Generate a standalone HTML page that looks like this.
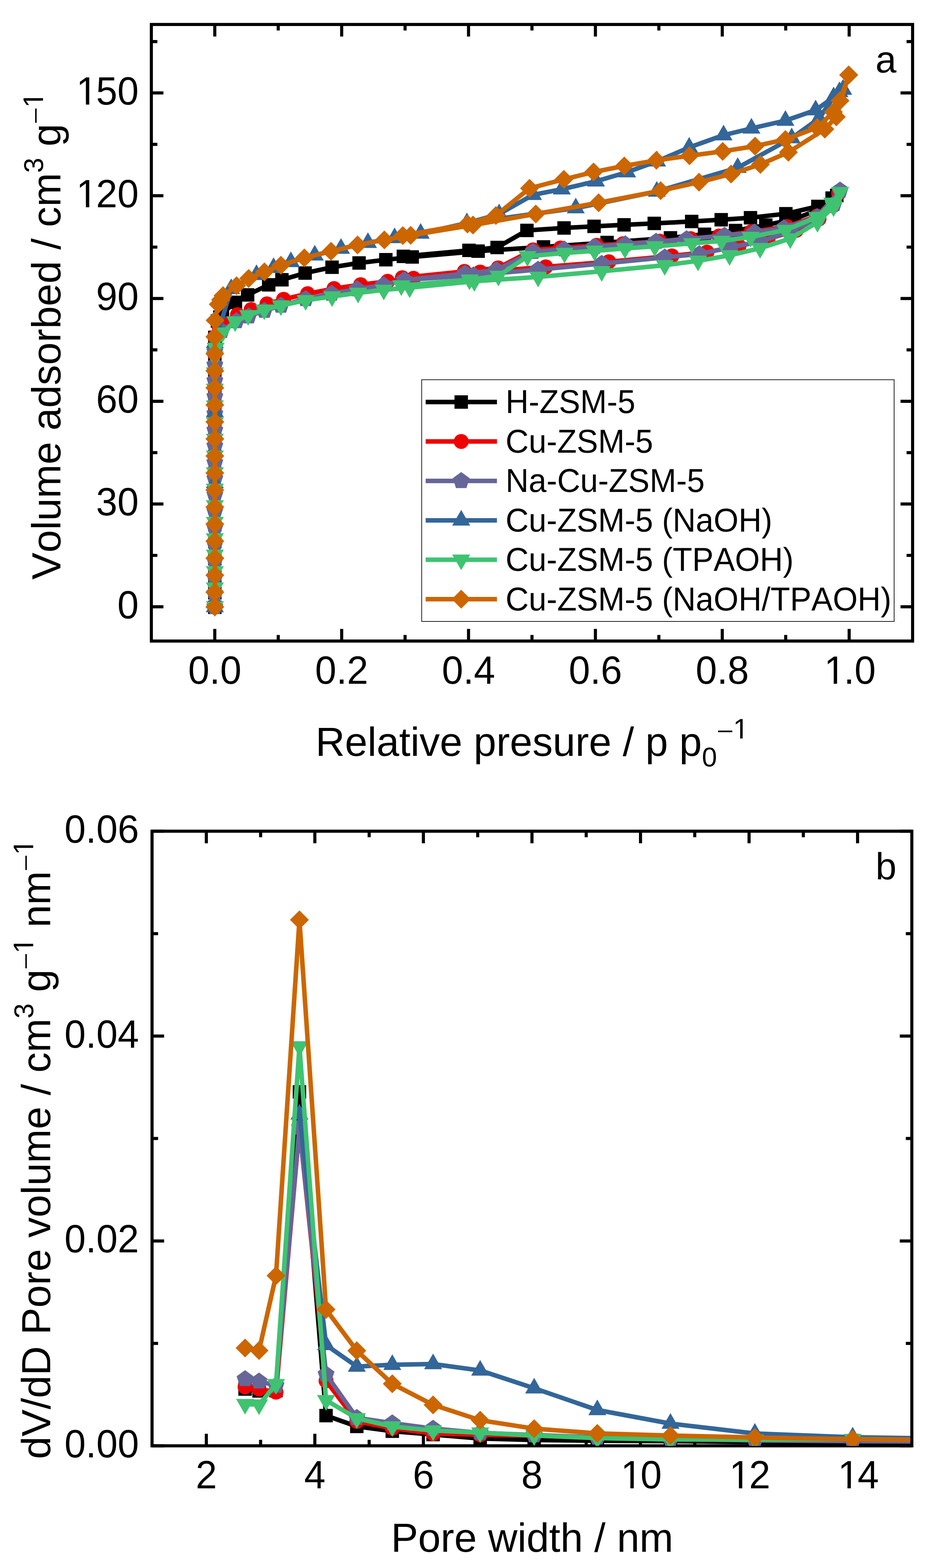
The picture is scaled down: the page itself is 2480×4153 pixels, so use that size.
<!DOCTYPE html>
<html lang="en">
<head>
<meta charset="utf-8">
<title>N2 physisorption isotherms and pore size distribution</title>
<style>html,body{margin:0;padding:0;background:#fff}body{width:2480px;height:4153px;overflow:hidden}svg{display:block}</style>
</head>
<body>
<svg width="2480" height="4153" viewBox="0 0 2480 4153" font-family='"Liberation Sans", sans-serif' fill="#000" style="font-kerning:none" text-rendering="geometricPrecision">
<rect width="2480" height="4153" fill="#fff"/>
<g id="plotA">
<path d="M569.2 1608.5L569.2 1570.0L569.2 1524.9L569.2 1479.8L569.2 1434.7L569.2 1389.6L569.2 1344.5L569.2 1299.4L569.2 1254.3L569.2 1209.2L569.2 1164.1L569.2 1119.0L569.2 1073.9L569.2 1028.8L569.2 983.7L569.2 938.6L569.2 893.5L576.1 850.1L582.5 839.9L589.5 829.0L623.8 800.8L656.1 781.1L711.9 754.4L747.0 741.0L808.4 723.2L879.8 707.8L951.4 696.5L1022.3 687.9L1092.1 680.6L1266.8 665.2L1440.0 654.0L1608.5 642.3L1776.4 630.0L1866.7 620.5L1948.9 610.6L2029.0 596.3L2105.0 580.0L2167.0 556.0L2204.7 524.7L2217.2 517.6" fill="none" stroke="#000000" stroke-width="12.0" stroke-linejoin="round"/>
<rect x="551.4" y="1590.7" width="35.6" height="35.6" fill="#000000"/>
<rect x="551.4" y="1552.2" width="35.6" height="35.6" fill="#000000"/>
<rect x="551.4" y="1507.1" width="35.6" height="35.6" fill="#000000"/>
<rect x="551.4" y="1462.0" width="35.6" height="35.6" fill="#000000"/>
<rect x="551.4" y="1416.9" width="35.6" height="35.6" fill="#000000"/>
<rect x="551.4" y="1371.8" width="35.6" height="35.6" fill="#000000"/>
<rect x="551.4" y="1326.7" width="35.6" height="35.6" fill="#000000"/>
<rect x="551.4" y="1281.6" width="35.6" height="35.6" fill="#000000"/>
<rect x="551.4" y="1236.5" width="35.6" height="35.6" fill="#000000"/>
<rect x="551.4" y="1191.4" width="35.6" height="35.6" fill="#000000"/>
<rect x="551.4" y="1146.3" width="35.6" height="35.6" fill="#000000"/>
<rect x="551.4" y="1101.2" width="35.6" height="35.6" fill="#000000"/>
<rect x="551.4" y="1056.1" width="35.6" height="35.6" fill="#000000"/>
<rect x="551.4" y="1011.0" width="35.6" height="35.6" fill="#000000"/>
<rect x="551.4" y="965.9" width="35.6" height="35.6" fill="#000000"/>
<rect x="551.4" y="920.8" width="35.6" height="35.6" fill="#000000"/>
<rect x="551.4" y="875.7" width="35.6" height="35.6" fill="#000000"/>
<rect x="558.3" y="832.3" width="35.6" height="35.6" fill="#000000"/>
<rect x="564.7" y="822.1" width="35.6" height="35.6" fill="#000000"/>
<rect x="571.7" y="811.2" width="35.6" height="35.6" fill="#000000"/>
<rect x="606.0" y="783.0" width="35.6" height="35.6" fill="#000000"/>
<rect x="638.3" y="763.3" width="35.6" height="35.6" fill="#000000"/>
<rect x="694.1" y="736.6" width="35.6" height="35.6" fill="#000000"/>
<rect x="729.2" y="723.2" width="35.6" height="35.6" fill="#000000"/>
<rect x="790.6" y="705.4" width="35.6" height="35.6" fill="#000000"/>
<rect x="862.0" y="690.0" width="35.6" height="35.6" fill="#000000"/>
<rect x="933.6" y="678.7" width="35.6" height="35.6" fill="#000000"/>
<rect x="1004.5" y="670.1" width="35.6" height="35.6" fill="#000000"/>
<rect x="1074.3" y="662.8" width="35.6" height="35.6" fill="#000000"/>
<rect x="1249.0" y="647.4" width="35.6" height="35.6" fill="#000000"/>
<rect x="1422.2" y="636.2" width="35.6" height="35.6" fill="#000000"/>
<rect x="1590.7" y="624.5" width="35.6" height="35.6" fill="#000000"/>
<rect x="1758.6" y="612.2" width="35.6" height="35.6" fill="#000000"/>
<rect x="1848.9" y="602.7" width="35.6" height="35.6" fill="#000000"/>
<rect x="1931.1" y="592.8" width="35.6" height="35.6" fill="#000000"/>
<rect x="2011.2" y="578.5" width="35.6" height="35.6" fill="#000000"/>
<rect x="2087.2" y="562.2" width="35.6" height="35.6" fill="#000000"/>
<rect x="2149.2" y="538.2" width="35.6" height="35.6" fill="#000000"/>
<rect x="2186.9" y="506.9" width="35.6" height="35.6" fill="#000000"/>
<rect x="2199.4" y="499.8" width="35.6" height="35.6" fill="#000000"/>
<path d="M2217.2 517.6L2167.0 546.7L2082.2 566.1L1988.5 576.7L1910.9 582.0L1832.7 586.6L1733.5 591.7L1653.5 595.5L1574.0 599.5L1494.5 603.8L1396.1 610.3L1317.1 655.5L1242.5 663.1L1068.7 679.0" fill="none" stroke="#000000" stroke-width="12.0" stroke-linejoin="round"/>
<rect x="2199.4" y="499.8" width="35.6" height="35.6" fill="#000000"/>
<rect x="2149.2" y="528.9" width="35.6" height="35.6" fill="#000000"/>
<rect x="2064.4" y="548.3" width="35.6" height="35.6" fill="#000000"/>
<rect x="1970.7" y="558.9" width="35.6" height="35.6" fill="#000000"/>
<rect x="1893.1" y="564.2" width="35.6" height="35.6" fill="#000000"/>
<rect x="1814.9" y="568.8" width="35.6" height="35.6" fill="#000000"/>
<rect x="1715.7" y="573.9" width="35.6" height="35.6" fill="#000000"/>
<rect x="1635.7" y="577.7" width="35.6" height="35.6" fill="#000000"/>
<rect x="1556.2" y="581.7" width="35.6" height="35.6" fill="#000000"/>
<rect x="1476.7" y="586.0" width="35.6" height="35.6" fill="#000000"/>
<rect x="1378.3" y="592.5" width="35.6" height="35.6" fill="#000000"/>
<rect x="1299.3" y="637.7" width="35.6" height="35.6" fill="#000000"/>
<rect x="1224.7" y="645.3" width="35.6" height="35.6" fill="#000000"/>
<rect x="1050.9" y="661.2" width="35.6" height="35.6" fill="#000000"/>
<path d="M569.2 1608.0L569.2 1569.0L569.2 1523.9L569.2 1478.8L569.2 1433.7L569.2 1388.6L569.2 1343.5L569.2 1298.4L569.2 1253.3L569.2 1208.2L569.2 1163.1L569.2 1118.0L569.2 1072.9L569.2 1027.8L569.2 982.7L569.2 937.6L569.2 892.5L581.3 869.0L589.0 856.0L629.2 833.2L665.6 819.7L707.3 804.9L751.3 792.7L815.1 777.9L885.0 764.3L955.5 754.0L1026.9 745.1L1095.6 737.0L1272.2 720.6L1446.0 706.7L1613.1 693.2L1780.2 677.7L1873.2 667.7L1958.0 652.0L2035.0 633.0L2110.0 610.0L2170.0 580.0L2207.0 545.0L2222.0 512.0" fill="none" stroke="#ee0000" stroke-width="12.0" stroke-linejoin="round"/>
<circle cx="569.2" cy="1608.0" r="19.8" fill="#ee0000"/>
<circle cx="569.2" cy="1569.0" r="19.8" fill="#ee0000"/>
<circle cx="569.2" cy="1523.9" r="19.8" fill="#ee0000"/>
<circle cx="569.2" cy="1478.8" r="19.8" fill="#ee0000"/>
<circle cx="569.2" cy="1433.7" r="19.8" fill="#ee0000"/>
<circle cx="569.2" cy="1388.6" r="19.8" fill="#ee0000"/>
<circle cx="569.2" cy="1343.5" r="19.8" fill="#ee0000"/>
<circle cx="569.2" cy="1298.4" r="19.8" fill="#ee0000"/>
<circle cx="569.2" cy="1253.3" r="19.8" fill="#ee0000"/>
<circle cx="569.2" cy="1208.2" r="19.8" fill="#ee0000"/>
<circle cx="569.2" cy="1163.1" r="19.8" fill="#ee0000"/>
<circle cx="569.2" cy="1118.0" r="19.8" fill="#ee0000"/>
<circle cx="569.2" cy="1072.9" r="19.8" fill="#ee0000"/>
<circle cx="569.2" cy="1027.8" r="19.8" fill="#ee0000"/>
<circle cx="569.2" cy="982.7" r="19.8" fill="#ee0000"/>
<circle cx="569.2" cy="937.6" r="19.8" fill="#ee0000"/>
<circle cx="569.2" cy="892.5" r="19.8" fill="#ee0000"/>
<circle cx="581.3" cy="869.0" r="19.8" fill="#ee0000"/>
<circle cx="589.0" cy="856.0" r="19.8" fill="#ee0000"/>
<circle cx="629.2" cy="833.2" r="19.8" fill="#ee0000"/>
<circle cx="665.6" cy="819.7" r="19.8" fill="#ee0000"/>
<circle cx="707.3" cy="804.9" r="19.8" fill="#ee0000"/>
<circle cx="751.3" cy="792.7" r="19.8" fill="#ee0000"/>
<circle cx="815.1" cy="777.9" r="19.8" fill="#ee0000"/>
<circle cx="885.0" cy="764.3" r="19.8" fill="#ee0000"/>
<circle cx="955.5" cy="754.0" r="19.8" fill="#ee0000"/>
<circle cx="1026.9" cy="745.1" r="19.8" fill="#ee0000"/>
<circle cx="1095.6" cy="737.0" r="19.8" fill="#ee0000"/>
<circle cx="1272.2" cy="720.6" r="19.8" fill="#ee0000"/>
<circle cx="1446.0" cy="706.7" r="19.8" fill="#ee0000"/>
<circle cx="1613.1" cy="693.2" r="19.8" fill="#ee0000"/>
<circle cx="1780.2" cy="677.7" r="19.8" fill="#ee0000"/>
<circle cx="1873.2" cy="667.7" r="19.8" fill="#ee0000"/>
<circle cx="1958.0" cy="652.0" r="19.8" fill="#ee0000"/>
<circle cx="2035.0" cy="633.0" r="19.8" fill="#ee0000"/>
<circle cx="2110.0" cy="610.0" r="19.8" fill="#ee0000"/>
<circle cx="2170.0" cy="580.0" r="19.8" fill="#ee0000"/>
<circle cx="2207.0" cy="545.0" r="19.8" fill="#ee0000"/>
<circle cx="2222.0" cy="512.0" r="19.8" fill="#ee0000"/>
<path d="M2222.0 512.0L2165.0 572.0L2085.0 600.0L1990.0 614.0L1905.5 625.1L1830.0 632.0L1747.8 638.9L1650.8 645.5L1580.8 649.5L1485.0 656.8L1412.3 661.7L1319.8 709.6L1230.4 718.9L1066.0 735.6" fill="none" stroke="#ee0000" stroke-width="12.0" stroke-linejoin="round"/>
<circle cx="2222.0" cy="512.0" r="19.8" fill="#ee0000"/>
<circle cx="2165.0" cy="572.0" r="19.8" fill="#ee0000"/>
<circle cx="2085.0" cy="600.0" r="19.8" fill="#ee0000"/>
<circle cx="1990.0" cy="614.0" r="19.8" fill="#ee0000"/>
<circle cx="1905.5" cy="625.1" r="19.8" fill="#ee0000"/>
<circle cx="1830.0" cy="632.0" r="19.8" fill="#ee0000"/>
<circle cx="1747.8" cy="638.9" r="19.8" fill="#ee0000"/>
<circle cx="1650.8" cy="645.5" r="19.8" fill="#ee0000"/>
<circle cx="1580.8" cy="649.5" r="19.8" fill="#ee0000"/>
<circle cx="1485.0" cy="656.8" r="19.8" fill="#ee0000"/>
<circle cx="1412.3" cy="661.7" r="19.8" fill="#ee0000"/>
<circle cx="1319.8" cy="709.6" r="19.8" fill="#ee0000"/>
<circle cx="1230.4" cy="718.9" r="19.8" fill="#ee0000"/>
<circle cx="1066.0" cy="735.6" r="19.8" fill="#ee0000"/>
<path d="M569.2 1607.0L569.2 1571.8L569.2 1528.3L569.2 1484.8L569.2 1441.3L569.2 1397.8L569.2 1354.3L569.2 1310.9L569.2 1267.4L569.2 1225.5L569.2 1181.3L569.2 1139.4L569.2 1095.9L569.2 1050.4L569.2 1008.4L569.2 966.6L569.2 931.2L587.3 876.2L626.2 850.4L658.8 837.7L700.6 822.9L744.3 809.4L809.8 791.9L878.5 777.6L946.0 765.8L1016.1 755.0L1071.4 741.6L1254.7 728.9L1425.8 714.0L1594.2 698.3L1761.3 681.7L1852.9 672.8L1936.5 655.0L2015.0 640.0L2095.0 612.0L2168.0 578.0L2210.0 540.0L2225.8 504.3" fill="none" stroke="#666699" stroke-width="12.0" stroke-linejoin="round"/>
<polygon points="569.2,1583.6 591.5,1599.8 583.0,1625.9 555.4,1625.9 546.9,1599.8" fill="#666699"/>
<polygon points="569.2,1548.4 591.5,1564.6 583.0,1590.7 555.4,1590.7 546.9,1564.6" fill="#666699"/>
<polygon points="569.2,1504.9 591.5,1521.1 583.0,1547.2 555.4,1547.2 546.9,1521.1" fill="#666699"/>
<polygon points="569.2,1461.4 591.5,1477.6 583.0,1503.7 555.4,1503.7 546.9,1477.6" fill="#666699"/>
<polygon points="569.2,1417.9 591.5,1434.1 583.0,1460.2 555.4,1460.2 546.9,1434.1" fill="#666699"/>
<polygon points="569.2,1374.4 591.5,1390.6 583.0,1416.7 555.4,1416.7 546.9,1390.6" fill="#666699"/>
<polygon points="569.2,1330.9 591.5,1347.1 583.0,1373.2 555.4,1373.2 546.9,1347.1" fill="#666699"/>
<polygon points="569.2,1287.5 591.5,1303.7 583.0,1329.8 555.4,1329.8 546.9,1303.7" fill="#666699"/>
<polygon points="569.2,1244.0 591.5,1260.2 583.0,1286.3 555.4,1286.3 546.9,1260.2" fill="#666699"/>
<polygon points="569.2,1202.1 591.5,1218.3 583.0,1244.4 555.4,1244.4 546.9,1218.3" fill="#666699"/>
<polygon points="569.2,1157.9 591.5,1174.1 583.0,1200.2 555.4,1200.2 546.9,1174.1" fill="#666699"/>
<polygon points="569.2,1116.0 591.5,1132.2 583.0,1158.3 555.4,1158.3 546.9,1132.2" fill="#666699"/>
<polygon points="569.2,1072.5 591.5,1088.7 583.0,1114.8 555.4,1114.8 546.9,1088.7" fill="#666699"/>
<polygon points="569.2,1027.0 591.5,1043.2 583.0,1069.3 555.4,1069.3 546.9,1043.2" fill="#666699"/>
<polygon points="569.2,985.0 591.5,1001.2 583.0,1027.3 555.4,1027.3 546.9,1001.2" fill="#666699"/>
<polygon points="569.2,943.2 591.5,959.4 583.0,985.5 555.4,985.5 546.9,959.4" fill="#666699"/>
<polygon points="569.2,907.8 591.5,924.0 583.0,950.1 555.4,950.1 546.9,924.0" fill="#666699"/>
<polygon points="587.3,852.8 609.6,869.0 601.1,895.1 573.5,895.1 565.0,869.0" fill="#666699"/>
<polygon points="626.2,827.0 648.5,843.2 640.0,869.3 612.4,869.3 603.9,843.2" fill="#666699"/>
<polygon points="658.8,814.3 681.1,830.5 672.6,856.6 645.0,856.6 636.5,830.5" fill="#666699"/>
<polygon points="700.6,799.5 722.9,815.7 714.4,841.8 686.8,841.8 678.3,815.7" fill="#666699"/>
<polygon points="744.3,786.0 766.6,802.2 758.1,828.3 730.5,828.3 722.0,802.2" fill="#666699"/>
<polygon points="809.8,768.5 832.1,784.7 823.6,810.8 796.0,810.8 787.5,784.7" fill="#666699"/>
<polygon points="878.5,754.2 900.8,770.4 892.3,796.5 864.7,796.5 856.2,770.4" fill="#666699"/>
<polygon points="946.0,742.4 968.3,758.6 959.8,784.7 932.2,784.7 923.7,758.6" fill="#666699"/>
<polygon points="1016.1,731.6 1038.4,747.8 1029.9,773.9 1002.3,773.9 993.8,747.8" fill="#666699"/>
<polygon points="1071.4,718.2 1093.7,734.4 1085.2,760.5 1057.6,760.5 1049.1,734.4" fill="#666699"/>
<polygon points="1254.7,705.5 1277.0,721.7 1268.5,747.8 1240.9,747.8 1232.4,721.7" fill="#666699"/>
<polygon points="1425.8,690.6 1448.1,706.8 1439.6,732.9 1412.0,732.9 1403.5,706.8" fill="#666699"/>
<polygon points="1594.2,674.9 1616.5,691.1 1608.0,717.2 1580.4,717.2 1571.9,691.1" fill="#666699"/>
<polygon points="1761.3,658.3 1783.6,674.5 1775.1,700.6 1747.5,700.6 1739.0,674.5" fill="#666699"/>
<polygon points="1852.9,649.4 1875.2,665.6 1866.7,691.7 1839.1,691.7 1830.6,665.6" fill="#666699"/>
<polygon points="1936.5,631.6 1958.8,647.8 1950.3,673.9 1922.7,673.9 1914.2,647.8" fill="#666699"/>
<polygon points="2015.0,616.6 2037.3,632.8 2028.8,658.9 2001.2,658.9 1992.7,632.8" fill="#666699"/>
<polygon points="2095.0,588.6 2117.3,604.8 2108.8,630.9 2081.2,630.9 2072.7,604.8" fill="#666699"/>
<polygon points="2168.0,554.6 2190.3,570.8 2181.8,596.9 2154.2,596.9 2145.7,570.8" fill="#666699"/>
<polygon points="2210.0,516.6 2232.3,532.8 2223.8,558.9 2196.2,558.9 2187.7,532.8" fill="#666699"/>
<polygon points="2225.8,480.9 2248.1,497.1 2239.6,523.2 2212.0,523.2 2203.5,497.1" fill="#666699"/>
<path d="M2225.8 504.3L2165.0 574.6L2077.0 604.1L1999.0 615.4L1919.5 623.8L1819.2 633.2L1738.4 639.9L1656.5 646.7L1575.4 653.3L1494.5 660.1L1412.3 666.8L1315.3 715.3L1231.8 724.6L1071.4 741.6" fill="none" stroke="#666699" stroke-width="12.0" stroke-linejoin="round"/>
<polygon points="2225.8,480.9 2248.1,497.1 2239.6,523.2 2212.0,523.2 2203.5,497.1" fill="#666699"/>
<polygon points="2165.0,551.2 2187.3,567.4 2178.8,593.5 2151.2,593.5 2142.7,567.4" fill="#666699"/>
<polygon points="2077.0,580.7 2099.3,596.9 2090.8,623.0 2063.2,623.0 2054.7,596.9" fill="#666699"/>
<polygon points="1999.0,592.0 2021.3,608.2 2012.8,634.3 1985.2,634.3 1976.7,608.2" fill="#666699"/>
<polygon points="1919.5,600.4 1941.8,616.6 1933.3,642.7 1905.7,642.7 1897.2,616.6" fill="#666699"/>
<polygon points="1819.2,609.8 1841.5,626.0 1833.0,652.1 1805.4,652.1 1796.9,626.0" fill="#666699"/>
<polygon points="1738.4,616.5 1760.7,632.7 1752.2,658.8 1724.6,658.8 1716.1,632.7" fill="#666699"/>
<polygon points="1656.5,623.3 1678.8,639.5 1670.3,665.6 1642.7,665.6 1634.2,639.5" fill="#666699"/>
<polygon points="1575.4,629.9 1597.7,646.1 1589.2,672.2 1561.6,672.2 1553.1,646.1" fill="#666699"/>
<polygon points="1494.5,636.7 1516.8,652.9 1508.3,679.0 1480.7,679.0 1472.2,652.9" fill="#666699"/>
<polygon points="1412.3,643.4 1434.6,659.6 1426.1,685.7 1398.5,685.7 1390.0,659.6" fill="#666699"/>
<polygon points="1315.3,691.9 1337.6,708.1 1329.1,734.2 1301.5,734.2 1293.0,708.1" fill="#666699"/>
<polygon points="1231.8,701.2 1254.1,717.4 1245.6,743.5 1218.0,743.5 1209.5,717.4" fill="#666699"/>
<polygon points="1071.4,718.2 1093.7,734.4 1085.2,760.5 1057.6,760.5 1049.1,734.4" fill="#666699"/>
<path d="M569.2 1607.7L569.2 1467.6L569.2 1279.2L569.2 1091.0L569.2 907.9L612.5 765.2L679.6 728.0L724.9 709.2L770.7 693.8L834.0 676.3L903.5 658.5L974.9 642.9L1045.5 630.2L1114.5 618.4L1237.1 590.9L1525.5 551.3L1740.3 507.1L1954.6 444.3L2097.7 365.6L2170.0 314.0L2208.8 257.5L2233.8 237.2" fill="none" stroke="#336699" stroke-width="12.0" stroke-linejoin="round"/>
<polygon points="569.2,1580.0 593.1,1621.5 545.4,1621.5" fill="#336699"/>
<polygon points="569.2,1439.9 593.1,1481.4 545.4,1481.4" fill="#336699"/>
<polygon points="569.2,1251.5 593.1,1293.0 545.4,1293.0" fill="#336699"/>
<polygon points="569.2,1063.3 593.1,1104.8 545.4,1104.8" fill="#336699"/>
<polygon points="569.2,880.2 593.1,921.7 545.4,921.7" fill="#336699"/>
<polygon points="612.5,737.5 636.4,779.0 588.6,779.0" fill="#336699"/>
<polygon points="679.6,700.3 703.5,741.8 655.8,741.8" fill="#336699"/>
<polygon points="724.9,681.5 748.8,723.0 701.0,723.0" fill="#336699"/>
<polygon points="770.7,666.1 794.6,707.6 746.9,707.6" fill="#336699"/>
<polygon points="834.0,648.6 857.9,690.1 810.1,690.1" fill="#336699"/>
<polygon points="903.5,630.8 927.4,672.3 879.6,672.3" fill="#336699"/>
<polygon points="974.9,615.2 998.8,656.7 951.0,656.7" fill="#336699"/>
<polygon points="1045.5,602.5 1069.3,644.0 1021.6,644.0" fill="#336699"/>
<polygon points="1114.5,590.7 1138.3,632.2 1090.7,632.2" fill="#336699"/>
<polygon points="1237.1,563.2 1260.9,604.7 1213.2,604.7" fill="#336699"/>
<polygon points="1525.5,523.6 1549.3,565.1 1501.7,565.1" fill="#336699"/>
<polygon points="1740.3,479.4 1764.1,520.9 1716.5,520.9" fill="#336699"/>
<polygon points="1954.6,416.6 1978.4,458.1 1930.8,458.1" fill="#336699"/>
<polygon points="2097.7,337.9 2121.5,379.4 2073.8,379.4" fill="#336699"/>
<polygon points="2170.0,286.3 2193.8,327.8 2146.2,327.8" fill="#336699"/>
<polygon points="2208.8,229.8 2232.7,271.3 2185.0,271.3" fill="#336699"/>
<polygon points="2233.8,209.5 2257.7,251.0 2210.0,251.0" fill="#336699"/>
<path d="M2233.8 237.2L2224.2 243.5L2208.8 257.5L2161.1 291.7L2081.0 319.5L1991.0 340.0L1917.1 358.0L1826.0 390.4L1741.0 427.3L1661.6 455.9L1578.9 480.2L1488.6 501.2L1412.3 516.0L1322.5 567.0L1237.1 590.9" fill="none" stroke="#336699" stroke-width="12.0" stroke-linejoin="round"/>
<polygon points="2233.8,209.5 2257.7,251.0 2210.0,251.0" fill="#336699"/>
<polygon points="2224.2,215.8 2248.0,257.3 2200.3,257.3" fill="#336699"/>
<polygon points="2208.8,229.8 2232.7,271.3 2185.0,271.3" fill="#336699"/>
<polygon points="2161.1,264.0 2184.9,305.5 2137.2,305.5" fill="#336699"/>
<polygon points="2081.0,291.8 2104.8,333.3 2057.2,333.3" fill="#336699"/>
<polygon points="1991.0,312.3 2014.8,353.8 1967.2,353.8" fill="#336699"/>
<polygon points="1917.1,330.3 1940.9,371.8 1893.2,371.8" fill="#336699"/>
<polygon points="1826.0,362.7 1849.8,404.2 1802.2,404.2" fill="#336699"/>
<polygon points="1741.0,399.6 1764.8,441.1 1717.2,441.1" fill="#336699"/>
<polygon points="1661.6,428.2 1685.4,469.7 1637.8,469.7" fill="#336699"/>
<polygon points="1578.9,452.5 1602.8,494.0 1555.1,494.0" fill="#336699"/>
<polygon points="1488.6,473.5 1512.4,515.0 1464.8,515.0" fill="#336699"/>
<polygon points="1412.3,488.3 1436.1,529.8 1388.5,529.8" fill="#336699"/>
<polygon points="1322.5,539.3 1346.3,580.8 1298.7,580.8" fill="#336699"/>
<polygon points="1237.1,563.2 1260.9,604.7 1213.2,604.7" fill="#336699"/>
<path d="M569.2 1606.0L569.2 1556.6L569.2 1513.4L569.2 1469.6L569.2 1426.2L569.2 1382.7L569.2 1338.7L569.2 1294.9L569.2 1251.5L569.2 1207.2L569.2 1162.9L569.2 1119.4L569.2 1074.3L569.2 1030.1L569.2 986.7L569.2 944.7L571.4 921.7L589.0 881.2L623.0 851.5L657.5 835.0L700.1 820.2L744.3 809.4L809.8 795.4L879.8 785.2L948.7 775.8L1016.9 767.7L1085.4 761.8L1256.8 745.0L1425.8 733.4L1594.2 718.5L1761.3 702.5L1849.4 690.9L1933.0 676.3L2013.9 657.4L2093.9 631.8L2165.9 588.6L2208.6 547.2L2225.8 509.4" fill="none" stroke="#3fc371" stroke-width="12.0" stroke-linejoin="round"/>
<polygon points="569.2,1633.7 593.1,1592.2 545.4,1592.2" fill="#3fc371"/>
<polygon points="569.2,1584.3 593.1,1542.8 545.4,1542.8" fill="#3fc371"/>
<polygon points="569.2,1541.1 593.1,1499.6 545.4,1499.6" fill="#3fc371"/>
<polygon points="569.2,1497.3 593.1,1455.8 545.4,1455.8" fill="#3fc371"/>
<polygon points="569.2,1453.9 593.1,1412.4 545.4,1412.4" fill="#3fc371"/>
<polygon points="569.2,1410.4 593.1,1368.9 545.4,1368.9" fill="#3fc371"/>
<polygon points="569.2,1366.4 593.1,1324.9 545.4,1324.9" fill="#3fc371"/>
<polygon points="569.2,1322.6 593.1,1281.1 545.4,1281.1" fill="#3fc371"/>
<polygon points="569.2,1279.2 593.1,1237.7 545.4,1237.7" fill="#3fc371"/>
<polygon points="569.2,1234.9 593.1,1193.4 545.4,1193.4" fill="#3fc371"/>
<polygon points="569.2,1190.6 593.1,1149.1 545.4,1149.1" fill="#3fc371"/>
<polygon points="569.2,1147.1 593.1,1105.6 545.4,1105.6" fill="#3fc371"/>
<polygon points="569.2,1102.0 593.1,1060.5 545.4,1060.5" fill="#3fc371"/>
<polygon points="569.2,1057.8 593.1,1016.3 545.4,1016.3" fill="#3fc371"/>
<polygon points="569.2,1014.4 593.1,972.9 545.4,972.9" fill="#3fc371"/>
<polygon points="569.2,972.4 593.1,930.9 545.4,930.9" fill="#3fc371"/>
<polygon points="571.4,949.4 595.2,907.9 547.5,907.9" fill="#3fc371"/>
<polygon points="589.0,908.9 612.9,867.4 565.1,867.4" fill="#3fc371"/>
<polygon points="623.0,879.2 646.9,837.7 599.1,837.7" fill="#3fc371"/>
<polygon points="657.5,862.7 681.4,821.2 633.6,821.2" fill="#3fc371"/>
<polygon points="700.1,847.9 724.0,806.4 676.2,806.4" fill="#3fc371"/>
<polygon points="744.3,837.1 768.1,795.6 720.4,795.6" fill="#3fc371"/>
<polygon points="809.8,823.1 833.6,781.6 785.9,781.6" fill="#3fc371"/>
<polygon points="879.8,812.9 903.6,771.4 855.9,771.4" fill="#3fc371"/>
<polygon points="948.7,803.5 972.6,762.0 924.9,762.0" fill="#3fc371"/>
<polygon points="1016.9,795.4 1040.8,753.9 993.0,753.9" fill="#3fc371"/>
<polygon points="1085.4,789.5 1109.2,748.0 1061.6,748.0" fill="#3fc371"/>
<polygon points="1256.8,772.7 1280.6,731.2 1233.0,731.2" fill="#3fc371"/>
<polygon points="1425.8,761.1 1449.6,719.6 1402.0,719.6" fill="#3fc371"/>
<polygon points="1594.2,746.2 1618.0,704.7 1570.4,704.7" fill="#3fc371"/>
<polygon points="1761.3,730.2 1785.1,688.7 1737.5,688.7" fill="#3fc371"/>
<polygon points="1849.4,718.6 1873.2,677.1 1825.6,677.1" fill="#3fc371"/>
<polygon points="1933.0,704.0 1956.8,662.5 1909.2,662.5" fill="#3fc371"/>
<polygon points="2013.9,685.1 2037.8,643.6 1990.1,643.6" fill="#3fc371"/>
<polygon points="2093.9,659.5 2117.8,618.0 2070.1,618.0" fill="#3fc371"/>
<polygon points="2165.9,616.3 2189.8,574.8 2142.1,574.8" fill="#3fc371"/>
<polygon points="2208.6,574.9 2232.4,533.4 2184.8,533.4" fill="#3fc371"/>
<polygon points="2225.8,537.1 2249.7,495.6 2202.0,495.6" fill="#3fc371"/>
<path d="M2225.8 509.4L2204.8 537.4L2165.1 575.1L2081.5 609.2L1988.5 627.8L1911.7 638.3L1833.3 644.5L1734.9 652.6L1656.0 658.0L1575.4 664.4L1495.8 670.0L1397.5 678.9L1320.6 730.7L1243.9 740.8L1063.3 756.4" fill="none" stroke="#3fc371" stroke-width="12.0" stroke-linejoin="round"/>
<polygon points="2225.8,537.1 2249.7,495.6 2202.0,495.6" fill="#3fc371"/>
<polygon points="2204.8,565.1 2228.7,523.6 2181.0,523.6" fill="#3fc371"/>
<polygon points="2165.1,602.8 2188.9,561.3 2141.2,561.3" fill="#3fc371"/>
<polygon points="2081.5,636.9 2105.3,595.4 2057.7,595.4" fill="#3fc371"/>
<polygon points="1988.5,655.5 2012.3,614.0 1964.7,614.0" fill="#3fc371"/>
<polygon points="1911.7,666.0 1935.5,624.5 1887.9,624.5" fill="#3fc371"/>
<polygon points="1833.3,672.2 1857.1,630.7 1809.5,630.7" fill="#3fc371"/>
<polygon points="1734.9,680.3 1758.8,638.8 1711.1,638.8" fill="#3fc371"/>
<polygon points="1656.0,685.7 1679.8,644.2 1632.2,644.2" fill="#3fc371"/>
<polygon points="1575.4,692.1 1599.2,650.6 1551.6,650.6" fill="#3fc371"/>
<polygon points="1495.8,697.7 1519.6,656.2 1472.0,656.2" fill="#3fc371"/>
<polygon points="1397.5,706.6 1421.3,665.1 1373.7,665.1" fill="#3fc371"/>
<polygon points="1320.6,758.4 1344.4,716.9 1296.8,716.9" fill="#3fc371"/>
<polygon points="1243.9,768.5 1267.8,727.0 1220.1,727.0" fill="#3fc371"/>
<polygon points="1063.3,784.1 1087.1,742.6 1039.5,742.6" fill="#3fc371"/>
<path d="M569.2 1607.5L569.2 1568.5L569.2 1523.4L569.2 1478.3L569.2 1433.2L569.2 1388.1L569.2 1343.0L569.2 1297.9L569.2 1252.8L569.2 1207.7L569.2 1162.6L569.2 1117.5L569.2 1072.4L569.2 1027.3L569.2 982.2L569.2 937.1L569.2 892.0L569.9 848.5L578.3 806.0L584.5 794.0L591.0 783.0L626.8 756.8L658.8 737.5L700.6 719.9L744.3 702.4L806.3 683.0L877.1 665.5L947.4 648.8L1018.3 635.4L1088.1 623.2L1253.3 596.0L1419.6 566.7L1586.1 537.0L1750.5 505.0L1852.1 482.6L1937.0 461.0L2014.7 435.4L2088.9 403.3L2185.5 342.0L2215.9 309.6L2248.7 198.5" fill="none" stroke="#cc6600" stroke-width="12.0" stroke-linejoin="round"/>
<polygon points="569.2,1582.5 594.2,1607.5 569.2,1632.5 544.2,1607.5" fill="#cc6600"/>
<polygon points="569.2,1543.5 594.2,1568.5 569.2,1593.5 544.2,1568.5" fill="#cc6600"/>
<polygon points="569.2,1498.4 594.2,1523.4 569.2,1548.4 544.2,1523.4" fill="#cc6600"/>
<polygon points="569.2,1453.3 594.2,1478.3 569.2,1503.3 544.2,1478.3" fill="#cc6600"/>
<polygon points="569.2,1408.2 594.2,1433.2 569.2,1458.2 544.2,1433.2" fill="#cc6600"/>
<polygon points="569.2,1363.1 594.2,1388.1 569.2,1413.1 544.2,1388.1" fill="#cc6600"/>
<polygon points="569.2,1318.0 594.2,1343.0 569.2,1368.0 544.2,1343.0" fill="#cc6600"/>
<polygon points="569.2,1272.9 594.2,1297.9 569.2,1322.9 544.2,1297.9" fill="#cc6600"/>
<polygon points="569.2,1227.8 594.2,1252.8 569.2,1277.8 544.2,1252.8" fill="#cc6600"/>
<polygon points="569.2,1182.7 594.2,1207.7 569.2,1232.7 544.2,1207.7" fill="#cc6600"/>
<polygon points="569.2,1137.6 594.2,1162.6 569.2,1187.6 544.2,1162.6" fill="#cc6600"/>
<polygon points="569.2,1092.5 594.2,1117.5 569.2,1142.5 544.2,1117.5" fill="#cc6600"/>
<polygon points="569.2,1047.4 594.2,1072.4 569.2,1097.4 544.2,1072.4" fill="#cc6600"/>
<polygon points="569.2,1002.3 594.2,1027.3 569.2,1052.3 544.2,1027.3" fill="#cc6600"/>
<polygon points="569.2,957.2 594.2,982.2 569.2,1007.2 544.2,982.2" fill="#cc6600"/>
<polygon points="569.2,912.1 594.2,937.1 569.2,962.1 544.2,937.1" fill="#cc6600"/>
<polygon points="569.2,867.0 594.2,892.0 569.2,917.0 544.2,892.0" fill="#cc6600"/>
<polygon points="569.9,823.5 594.9,848.5 569.9,873.5 544.9,848.5" fill="#cc6600"/>
<polygon points="578.3,781.0 603.3,806.0 578.3,831.0 553.3,806.0" fill="#cc6600"/>
<polygon points="584.5,769.0 609.5,794.0 584.5,819.0 559.5,794.0" fill="#cc6600"/>
<polygon points="591.0,758.0 616.0,783.0 591.0,808.0 566.0,783.0" fill="#cc6600"/>
<polygon points="626.8,731.8 651.8,756.8 626.8,781.8 601.8,756.8" fill="#cc6600"/>
<polygon points="658.8,712.5 683.8,737.5 658.8,762.5 633.8,737.5" fill="#cc6600"/>
<polygon points="700.6,694.9 725.6,719.9 700.6,744.9 675.6,719.9" fill="#cc6600"/>
<polygon points="744.3,677.4 769.3,702.4 744.3,727.4 719.3,702.4" fill="#cc6600"/>
<polygon points="806.3,658.0 831.3,683.0 806.3,708.0 781.3,683.0" fill="#cc6600"/>
<polygon points="877.1,640.5 902.1,665.5 877.1,690.5 852.1,665.5" fill="#cc6600"/>
<polygon points="947.4,623.8 972.4,648.8 947.4,673.8 922.4,648.8" fill="#cc6600"/>
<polygon points="1018.3,610.4 1043.3,635.4 1018.3,660.4 993.3,635.4" fill="#cc6600"/>
<polygon points="1088.1,598.2 1113.1,623.2 1088.1,648.2 1063.1,623.2" fill="#cc6600"/>
<polygon points="1253.3,571.0 1278.3,596.0 1253.3,621.0 1228.3,596.0" fill="#cc6600"/>
<polygon points="1419.6,541.7 1444.6,566.7 1419.6,591.7 1394.6,566.7" fill="#cc6600"/>
<polygon points="1586.1,512.0 1611.1,537.0 1586.1,562.0 1561.1,537.0" fill="#cc6600"/>
<polygon points="1750.5,480.0 1775.5,505.0 1750.5,530.0 1725.5,505.0" fill="#cc6600"/>
<polygon points="1852.1,457.6 1877.1,482.6 1852.1,507.6 1827.1,482.6" fill="#cc6600"/>
<polygon points="1937.0,436.0 1962.0,461.0 1937.0,486.0 1912.0,461.0" fill="#cc6600"/>
<polygon points="2014.7,410.4 2039.7,435.4 2014.7,460.4 1989.7,435.4" fill="#cc6600"/>
<polygon points="2088.9,378.3 2113.9,403.3 2088.9,428.3 2063.9,403.3" fill="#cc6600"/>
<polygon points="2185.5,317.0 2210.5,342.0 2185.5,367.0 2160.5,342.0" fill="#cc6600"/>
<polygon points="2215.9,284.6 2240.9,309.6 2215.9,334.6 2190.9,309.6" fill="#cc6600"/>
<polygon points="2248.7,173.5 2273.7,198.5 2248.7,223.5 2223.7,198.5" fill="#cc6600"/>
<path d="M2248.7 198.5L2225.6 266.7L2208.1 296.7L2165.3 337.9L2081.0 369.4L2000.6 387.0L1914.9 400.9L1826.8 412.5L1739.2 424.6L1654.0 439.5L1572.7 455.6L1494.0 475.0L1403.0 498.8L1314.0 570.7L1238.5 593.3L1067.3 624.0" fill="none" stroke="#cc6600" stroke-width="12.0" stroke-linejoin="round"/>
<polygon points="2248.7,173.5 2273.7,198.5 2248.7,223.5 2223.7,198.5" fill="#cc6600"/>
<polygon points="2225.6,241.7 2250.6,266.7 2225.6,291.7 2200.6,266.7" fill="#cc6600"/>
<polygon points="2208.1,271.7 2233.1,296.7 2208.1,321.7 2183.1,296.7" fill="#cc6600"/>
<polygon points="2165.3,312.9 2190.3,337.9 2165.3,362.9 2140.3,337.9" fill="#cc6600"/>
<polygon points="2081.0,344.4 2106.0,369.4 2081.0,394.4 2056.0,369.4" fill="#cc6600"/>
<polygon points="2000.6,362.0 2025.6,387.0 2000.6,412.0 1975.6,387.0" fill="#cc6600"/>
<polygon points="1914.9,375.9 1939.9,400.9 1914.9,425.9 1889.9,400.9" fill="#cc6600"/>
<polygon points="1826.8,387.5 1851.8,412.5 1826.8,437.5 1801.8,412.5" fill="#cc6600"/>
<polygon points="1739.2,399.6 1764.2,424.6 1739.2,449.6 1714.2,424.6" fill="#cc6600"/>
<polygon points="1654.0,414.5 1679.0,439.5 1654.0,464.5 1629.0,439.5" fill="#cc6600"/>
<polygon points="1572.7,430.6 1597.7,455.6 1572.7,480.6 1547.7,455.6" fill="#cc6600"/>
<polygon points="1494.0,450.0 1519.0,475.0 1494.0,500.0 1469.0,475.0" fill="#cc6600"/>
<polygon points="1403.0,473.8 1428.0,498.8 1403.0,523.8 1378.0,498.8" fill="#cc6600"/>
<polygon points="1314.0,545.7 1339.0,570.7 1314.0,595.7 1289.0,570.7" fill="#cc6600"/>
<polygon points="1238.5,568.3 1263.5,593.3 1238.5,618.3 1213.5,593.3" fill="#cc6600"/>
<polygon points="1067.3,599.0 1092.3,624.0 1067.3,649.0 1042.3,624.0" fill="#cc6600"/>
</g>
<rect x="401.0" y="64.8" width="2017.0" height="1633.05" fill="none" stroke="#000" stroke-width="8.2"/>
<path d="M569.1 1697.85v-32M569.1 64.8v32M905.3 1697.85v-32M905.3 64.8v32M1241.4 1697.85v-32M1241.4 64.8v32M1577.6 1697.85v-32M1577.6 64.8v32M1913.7 1697.85v-32M1913.7 64.8v32M2249.9 1697.85v-32M2249.9 64.8v32M737.2 1697.85v-16M737.2 64.8v16M1073.3 1697.85v-16M1073.3 64.8v16M1409.5 1697.85v-16M1409.5 64.8v16M1745.7 1697.85v-16M1745.7 64.8v16M2081.8 1697.85v-16M2081.8 64.8v16M401.0 1607.1h32M2418.0 1607.1h-32M401.0 1334.9h32M2418.0 1334.9h-32M401.0 1062.8h32M2418.0 1062.8h-32M401.0 790.6h32M2418.0 790.6h-32M401.0 518.4h32M2418.0 518.4h-32M401.0 246.2h32M2418.0 246.2h-32M401.0 1471.0h16M2418.0 1471.0h-16M401.0 1198.8h16M2418.0 1198.8h-16M401.0 926.7h16M2418.0 926.7h-16M401.0 654.5h16M2418.0 654.5h-16M401.0 382.3h16M2418.0 382.3h-16M401.0 110.1h16M2418.0 110.1h-16" fill="none" stroke="#000" stroke-width="8.2"/>
<g transform="translate(367.40 1637.50) scale(1 1.03)"><text font-size="101.5" style="white-space:pre"><tspan x="-56.45" y="0.00">0</tspan></text></g>
<g transform="translate(367.40 1365.33) scale(1 1.03)"><text font-size="101.5" style="white-space:pre"><tspan x="-112.90" y="0.00">30</tspan></text></g>
<g transform="translate(367.40 1093.15) scale(1 1.03)"><text font-size="101.5" style="white-space:pre"><tspan x="-112.90" y="0.00">60</tspan></text></g>
<g transform="translate(367.40 820.97) scale(1 1.03)"><text font-size="101.5" style="white-space:pre"><tspan x="-112.90" y="0.00">90</tspan></text></g>
<g transform="translate(367.40 548.80) scale(1 1.03)"><text font-size="101.5" style="white-space:pre"><tspan x="-165.29" y="0.00">1</tspan><tspan x="-112.90" y="0.00">20</tspan></text><path d="M-158.75 -8.38H-139.76V1.20H-158.75zM-130.80 -8.38H-112.60V1.20H-130.80z" fill="#fff"/></g>
<g transform="translate(367.40 276.62) scale(1 1.03)"><text font-size="101.5" style="white-space:pre"><tspan x="-165.29" y="0.00">1</tspan><tspan x="-112.90" y="0.00">50</tspan></text><path d="M-158.75 -8.38H-139.76V1.20H-158.75zM-130.80 -8.38H-112.60V1.20H-130.80z" fill="#fff"/></g>
<g transform="translate(569.10 1811.10) scale(1 1.03)"><text font-size="101.5" style="white-space:pre"><tspan x="-70.55" y="0.00">0.0</tspan></text></g>
<g transform="translate(905.26 1811.10) scale(1 1.03)"><text font-size="101.5" style="white-space:pre"><tspan x="-70.55" y="0.00">0.2</tspan></text></g>
<g transform="translate(1241.42 1811.10) scale(1 1.03)"><text font-size="101.5" style="white-space:pre"><tspan x="-70.55" y="0.00">0.4</tspan></text></g>
<g transform="translate(1577.58 1811.10) scale(1 1.03)"><text font-size="101.5" style="white-space:pre"><tspan x="-70.55" y="0.00">0.6</tspan></text></g>
<g transform="translate(1913.74 1811.10) scale(1 1.03)"><text font-size="101.5" style="white-space:pre"><tspan x="-70.55" y="0.00">0.8</tspan></text></g>
<g transform="translate(2249.90 1811.10) scale(1 1.03)"><text font-size="101.5" style="white-space:pre"><tspan x="-66.49" y="0.00">1</tspan><tspan x="-14.10" y="0.00">.0</tspan></text><path d="M-59.96 -8.38H-40.96V1.20H-59.96zM-32.00 -8.38H-13.80V1.20H-32.00z" fill="#fff"/></g>
<g transform="translate(1408.50 2001.50)"><text font-size="107.7" style="white-space:pre"><tspan x="-572.41" y="0.00">Relative presure / p p</tspan><tspan x="451.27" y="28.40" font-size="72.0">0</tspan><tspan x="490.01" y="-37.30" font-size="81.0" font-family='"Liberation Serif", serif'>−</tspan><tspan x="533.69" y="-45.50" font-size="75.0">1</tspan></text><path d="M538.21 -51.90H552.56V-44.30H538.21zM559.18 -51.90H572.94V-44.30H559.18z" fill="#fff"/></g>
<g transform="translate(159.60 891.00) rotate(-90)"><text font-size="107.7" style="white-space:pre"><tspan x="-644.24" y="0.00">Volume adsorbed / cm</tspan><tspan x="433.29" y="-45.50" font-size="72.0">3</tspan><tspan x="473.33" y="0.00"> g</tspan><tspan x="561.85" y="-37.30" font-size="81.0" font-family='"Liberation Serif", serif'>−</tspan><tspan x="605.53" y="-45.50" font-size="75.0">1</tspan></text><path d="M610.04 -51.90H624.39V-44.30H610.04zM631.01 -51.90H644.78V-44.30H631.01z" fill="#fff"/></g>
<g transform="translate(2319.40 191.70)"><text font-size="100" style="white-space:pre"><tspan x="0.00" y="0.00">a</tspan></text></g>
<rect x="1117.3" y="1005.7" width="1251.8" height="640.2" fill="#fff" stroke="#000" stroke-width="1.8"/>
<path d="M1127.8 1064.8H1316.7" stroke="#000000" stroke-width="12.0" fill="none"/>
<rect x="1204.2" y="1047.0" width="35.6" height="35.6" fill="#000000"/>
<g transform="translate(1339.50 1094.20) scale(1 1.035)"><text font-size="84.8" style="white-space:pre"><tspan x="0.00" y="0.00">H-ZSM-5</tspan></text></g>
<path d="M1127.8 1169.3H1316.7" stroke="#ee0000" stroke-width="12.0" fill="none"/>
<circle cx="1222.0" cy="1169.3" r="19.8" fill="#ee0000"/>
<g transform="translate(1339.50 1198.66) scale(1 1.035)"><text font-size="84.8" style="white-space:pre"><tspan x="0.00" y="0.00">Cu-ZSM-5</tspan></text></g>
<path d="M1127.8 1273.7H1316.7" stroke="#666699" stroke-width="12.0" fill="none"/>
<polygon points="1222.0,1250.3 1244.3,1266.5 1235.8,1292.7 1208.2,1292.7 1199.7,1266.5" fill="#666699"/>
<g transform="translate(1339.50 1303.12) scale(1 1.035)"><text font-size="84.8" style="white-space:pre"><tspan x="0.00" y="0.00">Na-Cu-ZSM-5</tspan></text></g>
<path d="M1127.8 1378.2H1316.7" stroke="#336699" stroke-width="12.0" fill="none"/>
<polygon points="1222.0,1350.5 1245.8,1392.0 1198.2,1392.0" fill="#336699"/>
<g transform="translate(1339.50 1407.58) scale(1 1.035)"><text font-size="84.8" style="white-space:pre"><tspan x="0.00" y="0.00">Cu-ZSM-5 (NaOH)</tspan></text></g>
<path d="M1127.8 1482.6H1316.7" stroke="#3fc371" stroke-width="12.0" fill="none"/>
<polygon points="1222.0,1510.3 1245.8,1468.8 1198.2,1468.8" fill="#3fc371"/>
<g transform="translate(1339.50 1512.04) scale(1 1.035)"><text font-size="84.8" style="white-space:pre"><tspan x="0.00" y="0.00">Cu-ZSM-5 (TPAOH)</tspan></text></g>
<path d="M1127.8 1587.1H1316.7" stroke="#cc6600" stroke-width="12.0" fill="none"/>
<polygon points="1222.0,1562.1 1247.0,1587.1 1222.0,1612.1 1197.0,1587.1" fill="#cc6600"/>
<g transform="translate(1339.50 1616.50) scale(1 1.035)"><text font-size="84.8" style="white-space:pre"><tspan x="0.00" y="0.00">Cu-ZSM-5 (NaOH/TPAOH)</tspan></text></g>
<rect x="402.85" y="2201.5" width="2013.15" height="1627.9" fill="none" stroke="#000" stroke-width="8.2"/>
<path d="M546.7 3829.4v-32M546.7 2201.5v32M834.2 3829.4v-32M834.2 2201.5v32M1121.8 3829.4v-32M1121.8 2201.5v32M1409.5 3829.4v-32M1409.5 2201.5v32M1697.1 3829.4v-32M1697.1 2201.5v32M1984.7 3829.4v-32M1984.7 2201.5v32M2272.2 3829.4v-32M2272.2 2201.5v32M690.5 3829.4v-16M690.5 2201.5v16M978.1 3829.4v-16M978.1 2201.5v16M1265.7 3829.4v-16M1265.7 2201.5v16M1553.2 3829.4v-16M1553.2 2201.5v16M1840.8 3829.4v-16M1840.8 2201.5v16M2128.5 3829.4v-16M2128.5 2201.5v16M402.85 3829.4h32M2416.0 3829.4h-32M402.85 3286.8h32M2416.0 3286.8h-32M402.85 2744.1h32M2416.0 2744.1h-32M402.85 2201.5h32M2416.0 2201.5h-32M402.85 3558.1h16M2416.0 3558.1h-16M402.85 3015.4h16M2416.0 3015.4h-16M402.85 2472.8h16M2416.0 2472.8h-16" fill="none" stroke="#000" stroke-width="8.2"/>
<clipPath id="cb"><rect x="403" y="2100" width="2009" height="1729.5"/></clipPath>
<g id="plotB" clip-path="url(#cb)">
<path d="M649.3 3679.0L686.3 3684.0L731.3 3683.3L793.4 2892.0L863.9 3749.4L945.4 3778.0L1039.4 3790.7L1147.5 3799.6L1272.2 3810.0L1415.3 3814.0L1582.6 3816.0L1776.4 3817.0L2000.1 3819.5L2259.2 3821.0L2560.0 3822.0" fill="none" stroke="#000000" stroke-width="12.0" stroke-linejoin="round"/>
<rect x="631.5" y="3661.2" width="35.6" height="35.6" fill="#000000"/>
<rect x="668.5" y="3666.2" width="35.6" height="35.6" fill="#000000"/>
<rect x="713.5" y="3665.5" width="35.6" height="35.6" fill="#000000"/>
<rect x="775.6" y="2874.2" width="35.6" height="35.6" fill="#000000"/>
<rect x="846.1" y="3731.6" width="35.6" height="35.6" fill="#000000"/>
<rect x="927.6" y="3760.2" width="35.6" height="35.6" fill="#000000"/>
<rect x="1021.6" y="3772.9" width="35.6" height="35.6" fill="#000000"/>
<rect x="1129.7" y="3781.8" width="35.6" height="35.6" fill="#000000"/>
<rect x="1254.4" y="3792.2" width="35.6" height="35.6" fill="#000000"/>
<rect x="1397.5" y="3796.2" width="35.6" height="35.6" fill="#000000"/>
<rect x="1564.8" y="3798.2" width="35.6" height="35.6" fill="#000000"/>
<rect x="1758.6" y="3799.2" width="35.6" height="35.6" fill="#000000"/>
<rect x="1982.3" y="3801.7" width="35.6" height="35.6" fill="#000000"/>
<rect x="2241.4" y="3803.2" width="35.6" height="35.6" fill="#000000"/>
<rect x="2542.2" y="3804.2" width="35.6" height="35.6" fill="#000000"/>
<path d="M649.3 3673.3L686.3 3678.8L731.3 3687.3L793.4 2987.0L863.9 3657.3L945.4 3764.8L1039.4 3782.9L1147.5 3797.1L1272.2 3800.3L1415.3 3802.5L1582.6 3808.0L1776.4 3811.0L2000.1 3814.0L2259.2 3816.0L2560.0 3817.0" fill="none" stroke="#ee0000" stroke-width="12.0" stroke-linejoin="round"/>
<circle cx="649.3" cy="3673.3" r="19.8" fill="#ee0000"/>
<circle cx="686.3" cy="3678.8" r="19.8" fill="#ee0000"/>
<circle cx="731.3" cy="3687.3" r="19.8" fill="#ee0000"/>
<circle cx="793.4" cy="2987.0" r="19.8" fill="#ee0000"/>
<circle cx="863.9" cy="3657.3" r="19.8" fill="#ee0000"/>
<circle cx="945.4" cy="3764.8" r="19.8" fill="#ee0000"/>
<circle cx="1039.4" cy="3782.9" r="19.8" fill="#ee0000"/>
<circle cx="1147.5" cy="3797.1" r="19.8" fill="#ee0000"/>
<circle cx="1272.2" cy="3800.3" r="19.8" fill="#ee0000"/>
<circle cx="1415.3" cy="3802.5" r="19.8" fill="#ee0000"/>
<circle cx="1582.6" cy="3808.0" r="19.8" fill="#ee0000"/>
<circle cx="1776.4" cy="3811.0" r="19.8" fill="#ee0000"/>
<circle cx="2000.1" cy="3814.0" r="19.8" fill="#ee0000"/>
<circle cx="2259.2" cy="3816.0" r="19.8" fill="#ee0000"/>
<circle cx="2560.0" cy="3817.0" r="19.8" fill="#ee0000"/>
<path d="M649.3 3652.4L686.3 3658.6L731.3 3669.8L793.4 2986.0L863.9 3640.0L945.4 3755.1L1039.4 3769.4L1147.5 3783.7L1272.2 3795.0L1415.3 3800.8L1582.6 3807.0L1776.4 3811.0L2000.1 3815.0L2259.2 3817.0L2560.0 3818.5" fill="none" stroke="#666699" stroke-width="12.0" stroke-linejoin="round"/>
<polygon points="649.3,3629.0 671.6,3645.2 663.1,3671.3 635.5,3671.3 627.0,3645.2" fill="#666699"/>
<polygon points="686.3,3635.2 708.6,3651.4 700.1,3677.5 672.5,3677.5 664.0,3651.4" fill="#666699"/>
<polygon points="731.3,3646.4 753.6,3662.6 745.1,3688.7 717.5,3688.7 709.0,3662.6" fill="#666699"/>
<polygon points="793.4,2962.6 815.7,2978.8 807.2,3004.9 779.6,3004.9 771.1,2978.8" fill="#666699"/>
<polygon points="863.9,3616.6 886.2,3632.8 877.7,3658.9 850.1,3658.9 841.6,3632.8" fill="#666699"/>
<polygon points="945.4,3731.7 967.7,3747.9 959.2,3774.0 931.6,3774.0 923.1,3747.9" fill="#666699"/>
<polygon points="1039.4,3746.0 1061.7,3762.2 1053.2,3788.3 1025.6,3788.3 1017.1,3762.2" fill="#666699"/>
<polygon points="1147.5,3760.3 1169.8,3776.5 1161.3,3802.6 1133.7,3802.6 1125.2,3776.5" fill="#666699"/>
<polygon points="1272.2,3771.6 1294.5,3787.8 1286.0,3813.9 1258.4,3813.9 1249.9,3787.8" fill="#666699"/>
<polygon points="1415.3,3777.4 1437.6,3793.6 1429.1,3819.7 1401.5,3819.7 1393.0,3793.6" fill="#666699"/>
<polygon points="1582.6,3783.6 1604.9,3799.8 1596.4,3825.9 1568.8,3825.9 1560.3,3799.8" fill="#666699"/>
<polygon points="1776.4,3787.6 1798.7,3803.8 1790.2,3829.9 1762.6,3829.9 1754.1,3803.8" fill="#666699"/>
<polygon points="2000.1,3791.6 2022.4,3807.8 2013.9,3833.9 1986.3,3833.9 1977.8,3807.8" fill="#666699"/>
<polygon points="2259.2,3793.6 2281.5,3809.8 2273.0,3835.9 2245.4,3835.9 2236.9,3809.8" fill="#666699"/>
<polygon points="2560.0,3795.1 2582.3,3811.3 2573.8,3837.4 2546.2,3837.4 2537.7,3811.3" fill="#666699"/>
<path d="M793.4 2951.5L863.9 3562.3L945.4 3619.4L1039.4 3614.7L1147.5 3612.8L1272.2 3629.8L1415.3 3676.9L1582.6 3734.5L1776.4 3770.5L2000.1 3796.7L2259.2 3806.7L2560.0 3811.0" fill="none" stroke="#336699" stroke-width="12.0" stroke-linejoin="round"/>
<polygon points="793.4,2923.8 817.2,2965.3 769.5,2965.3" fill="#336699"/>
<polygon points="863.9,3534.6 887.8,3576.1 840.0,3576.1" fill="#336699"/>
<polygon points="945.4,3591.7 969.2,3633.2 921.5,3633.2" fill="#336699"/>
<polygon points="1039.4,3587.0 1063.2,3628.5 1015.6,3628.5" fill="#336699"/>
<polygon points="1147.5,3585.1 1171.3,3626.6 1123.7,3626.6" fill="#336699"/>
<polygon points="1272.2,3602.1 1296.0,3643.6 1248.4,3643.6" fill="#336699"/>
<polygon points="1415.3,3649.2 1439.1,3690.7 1391.5,3690.7" fill="#336699"/>
<polygon points="1582.6,3706.8 1606.4,3748.3 1558.8,3748.3" fill="#336699"/>
<polygon points="1776.4,3742.8 1800.2,3784.3 1752.6,3784.3" fill="#336699"/>
<polygon points="2000.1,3769.0 2023.9,3810.5 1976.2,3810.5" fill="#336699"/>
<polygon points="2259.2,3779.0 2283.0,3820.5 2235.3,3820.5" fill="#336699"/>
<polygon points="2560.0,3783.3 2583.8,3824.8 2536.2,3824.8" fill="#336699"/>
<path d="M649.3 3719.0L686.3 3720.3L731.3 3666.3L793.4 2771.5L863.9 3708.7L945.4 3756.7L1039.4 3778.3L1147.5 3789.1L1272.2 3794.5L1415.3 3802.0L1582.6 3809.0L1776.4 3812.5L2000.1 3813.0L2259.2 3811.5L2560.0 3815.0" fill="none" stroke="#3fc371" stroke-width="12.0" stroke-linejoin="round"/>
<polygon points="649.3,3746.7 673.1,3705.2 625.4,3705.2" fill="#3fc371"/>
<polygon points="686.3,3748.0 710.1,3706.5 662.4,3706.5" fill="#3fc371"/>
<polygon points="731.3,3694.0 755.1,3652.5 707.4,3652.5" fill="#3fc371"/>
<polygon points="793.4,2799.2 817.2,2757.7 769.5,2757.7" fill="#3fc371"/>
<polygon points="863.9,3736.4 887.8,3694.9 840.0,3694.9" fill="#3fc371"/>
<polygon points="945.4,3784.4 969.2,3742.9 921.5,3742.9" fill="#3fc371"/>
<polygon points="1039.4,3806.0 1063.2,3764.5 1015.6,3764.5" fill="#3fc371"/>
<polygon points="1147.5,3816.8 1171.3,3775.3 1123.7,3775.3" fill="#3fc371"/>
<polygon points="1272.2,3822.2 1296.0,3780.7 1248.4,3780.7" fill="#3fc371"/>
<polygon points="1415.3,3829.7 1439.1,3788.2 1391.5,3788.2" fill="#3fc371"/>
<polygon points="1582.6,3836.7 1606.4,3795.2 1558.8,3795.2" fill="#3fc371"/>
<polygon points="1776.4,3840.2 1800.2,3798.7 1752.6,3798.7" fill="#3fc371"/>
<polygon points="2000.1,3840.7 2023.9,3799.2 1976.2,3799.2" fill="#3fc371"/>
<polygon points="2259.2,3839.2 2283.0,3797.7 2235.3,3797.7" fill="#3fc371"/>
<polygon points="2560.0,3842.7 2583.8,3801.2 2536.2,3801.2" fill="#3fc371"/>
<path d="M649.3 3570.3L686.3 3577.0L731.3 3378.7L793.4 2436.3L863.9 3468.3L945.4 3577.5L1039.4 3665.1L1147.5 3720.9L1272.2 3761.6L1415.3 3783.9L1582.6 3796.5L1776.4 3802.3L2000.1 3807.3L2259.2 3812.0L2560.0 3814.0" fill="none" stroke="#cc6600" stroke-width="12.0" stroke-linejoin="round"/>
<polygon points="649.3,3545.3 674.3,3570.3 649.3,3595.3 624.3,3570.3" fill="#cc6600"/>
<polygon points="686.3,3552.0 711.3,3577.0 686.3,3602.0 661.3,3577.0" fill="#cc6600"/>
<polygon points="731.3,3353.7 756.3,3378.7 731.3,3403.7 706.3,3378.7" fill="#cc6600"/>
<polygon points="793.4,2411.3 818.4,2436.3 793.4,2461.3 768.4,2436.3" fill="#cc6600"/>
<polygon points="863.9,3443.3 888.9,3468.3 863.9,3493.3 838.9,3468.3" fill="#cc6600"/>
<polygon points="945.4,3552.5 970.4,3577.5 945.4,3602.5 920.4,3577.5" fill="#cc6600"/>
<polygon points="1039.4,3640.1 1064.4,3665.1 1039.4,3690.1 1014.4,3665.1" fill="#cc6600"/>
<polygon points="1147.5,3695.9 1172.5,3720.9 1147.5,3745.9 1122.5,3720.9" fill="#cc6600"/>
<polygon points="1272.2,3736.6 1297.2,3761.6 1272.2,3786.6 1247.2,3761.6" fill="#cc6600"/>
<polygon points="1415.3,3758.9 1440.3,3783.9 1415.3,3808.9 1390.3,3783.9" fill="#cc6600"/>
<polygon points="1582.6,3771.5 1607.6,3796.5 1582.6,3821.5 1557.6,3796.5" fill="#cc6600"/>
<polygon points="1776.4,3777.3 1801.4,3802.3 1776.4,3827.3 1751.4,3802.3" fill="#cc6600"/>
<polygon points="2000.1,3782.3 2025.1,3807.3 2000.1,3832.3 1975.1,3807.3" fill="#cc6600"/>
<polygon points="2259.2,3787.0 2284.2,3812.0 2259.2,3837.0 2234.2,3812.0" fill="#cc6600"/>
<polygon points="2560.0,3789.0 2585.0,3814.0 2560.0,3839.0 2535.0,3814.0" fill="#cc6600"/>
</g>
<g transform="translate(368.20 3859.80) scale(1 1.03)"><text font-size="101.5" style="white-space:pre"><tspan x="-197.55" y="0.00">0.00</tspan></text></g>
<g transform="translate(368.20 3317.17) scale(1 1.03)"><text font-size="101.5" style="white-space:pre"><tspan x="-197.55" y="0.00">0.02</tspan></text></g>
<g transform="translate(368.20 2774.53) scale(1 1.03)"><text font-size="101.5" style="white-space:pre"><tspan x="-197.55" y="0.00">0.04</tspan></text></g>
<g transform="translate(368.20 2231.90) scale(1 1.03)"><text font-size="101.5" style="white-space:pre"><tspan x="-197.55" y="0.00">0.06</tspan></text></g>
<g transform="translate(546.65 3941.70) scale(1 1.03)"><text font-size="101.5" style="white-space:pre"><tspan x="-28.22" y="0.00">2</tspan></text></g>
<g transform="translate(834.25 3941.70) scale(1 1.03)"><text font-size="101.5" style="white-space:pre"><tspan x="-28.22" y="0.00">4</tspan></text></g>
<g transform="translate(1121.85 3941.70) scale(1 1.03)"><text font-size="101.5" style="white-space:pre"><tspan x="-28.22" y="0.00">6</tspan></text></g>
<g transform="translate(1409.45 3941.70) scale(1 1.03)"><text font-size="101.5" style="white-space:pre"><tspan x="-28.22" y="0.00">8</tspan></text></g>
<g transform="translate(1697.05 3941.70) scale(1 1.03)"><text font-size="101.5" style="white-space:pre"><tspan x="-52.39" y="0.00">1</tspan><tspan x="0.00" y="0.00">0</tspan></text><path d="M-45.86 -8.38H-26.86V1.20H-45.86zM-17.90 -8.38H0.30V1.20H-17.90z" fill="#fff"/></g>
<g transform="translate(1984.65 3941.70) scale(1 1.03)"><text font-size="101.5" style="white-space:pre"><tspan x="-52.39" y="0.00">1</tspan><tspan x="0.00" y="0.00">2</tspan></text><path d="M-45.86 -8.38H-26.86V1.20H-45.86zM-17.90 -8.38H0.30V1.20H-17.90z" fill="#fff"/></g>
<g transform="translate(2272.25 3941.70) scale(1 1.03)"><text font-size="101.5" style="white-space:pre"><tspan x="-52.39" y="0.00">1</tspan><tspan x="0.00" y="0.00">4</tspan></text><path d="M-45.86 -8.38H-26.86V1.20H-45.86zM-17.90 -8.38H0.30V1.20H-17.90z" fill="#fff"/></g>
<g transform="translate(1410.00 4110.00)"><text font-size="107.7" style="white-space:pre"><tspan x="-374.11" y="0.00">Pore width / nm</tspan></text></g>
<g transform="translate(133.30 3045.20) rotate(-90)"><text font-size="107.7" style="white-space:pre"><tspan x="-819.39" y="0.00">dV/dD Pore volume / cm</tspan><tspan x="347.80" y="-45.50" font-size="72.0">3</tspan><tspan x="387.85" y="0.00"> g</tspan><tspan x="476.37" y="-37.30" font-size="81.0" font-family='"Liberation Serif", serif'>−</tspan><tspan x="520.05" y="-45.50" font-size="75.0">1</tspan><tspan x="558.76" y="0.00"> nm</tspan><tspan x="736.99" y="-37.30" font-size="81.0" font-family='"Liberation Serif", serif'>−</tspan><tspan x="780.67" y="-45.50" font-size="75.0">1</tspan></text><path d="M524.56 -51.90H538.91V-44.30H524.56zM545.53 -51.90H559.29V-44.30H545.53zM785.19 -51.90H799.54V-44.30H785.19zM806.16 -51.90H819.92V-44.30H806.16z" fill="#fff"/></g>
<g transform="translate(2319.80 2328.90)"><text font-size="100" style="white-space:pre"><tspan x="0.00" y="0.00">b</tspan></text></g>
</svg>
</body>
</html>
